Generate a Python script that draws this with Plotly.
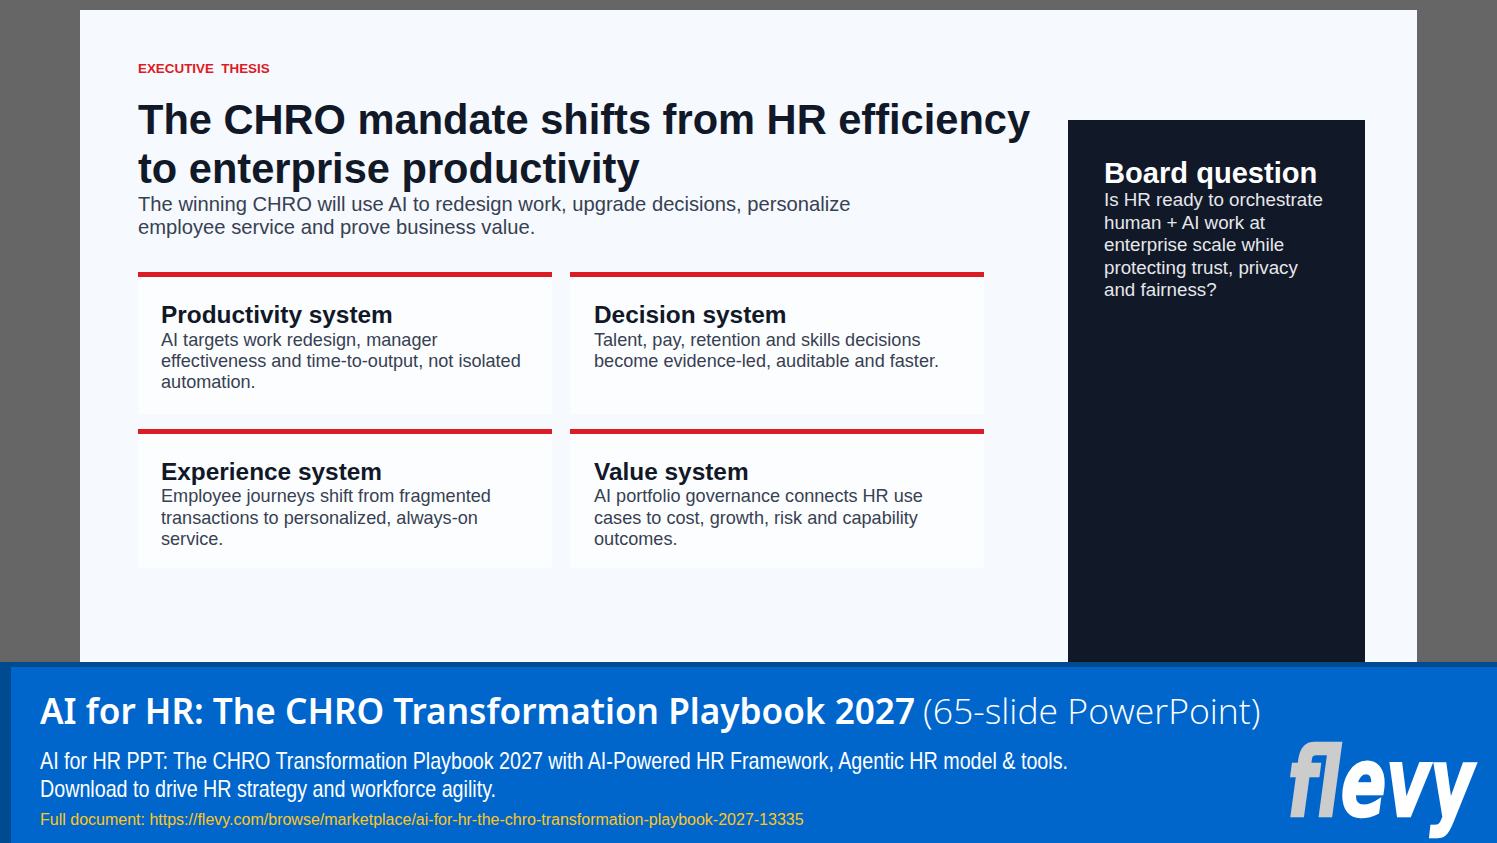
import json
import plotly.graph_objects as go

ARIAL = "Liberation Sans"
NOTO = "Noto Sans"
INK = "#111827"
BODY = "#374151"
WHITE = "#ffffff"

eyebrow = "EXECUTIVE  THESIS"
title_lines = ["The CHRO mandate shifts from HR efficiency", "to enterprise productivity"]
lede_lines = ["The winning CHRO will use AI to redesign work, upgrade decisions, personalize",
              "employee service and prove business value."]
card_heads = ["Productivity system", "Decision system", "Experience system", "Value system"]
card_bodies = [
    ["AI targets work redesign, manager", "effectiveness and time-to-output, not isolated", "automation."],
    ["Talent, pay, retention and skills decisions", "become evidence-led, auditable and faster."],
    ["Employee journeys shift from fragmented", "transactions to personalized, always-on", "service."],
    ["AI portfolio governance connects HR use", "cases to cost, growth, risk and capability", "outcomes."],
]
panel_head = "Board question"
panel_lines = ["Is HR ready to orchestrate", "human + AI work at", "enterprise scale while",
               "protecting trust, privacy", "and fairness?"]
banner_title = "AI for HR: The CHRO Transformation Playbook 2027"
banner_suffix = "(65-slide PowerPoint)"
banner_lines = ["AI for HR PPT: The CHRO Transformation Playbook 2027 with AI-Powered HR Framework, Agentic HR model & tools.",
                "Download to drive HR strategy and workforce agility."]
banner_link = "Full document: https://flevy.com/browse/marketplace/ai-for-hr-the-chro-transformation-playbook-2027-13335"
logo = "<span style='color:#cccccc'>f</span>levy"

# rendered widths of lines whose original face is condensed
fitted = {banner_lines[0]: 1028, banner_lines[1]: 456, logo: 186}

shapes = []
def rect(x0, y0, x1, y1, color):
    shapes.append(dict(type="rect", x0=x0, y0=y0, x1=x1, y1=y1, fillcolor=color,
                       line=dict(width=0), layer="below"))
anns = []
def text(x, y, s, size, color, family=ARIAL, weight=400):
    anns.append(dict(x=x - 2, y=y, text=s, showarrow=False, xanchor="left", yanchor="middle",
                     align="left", font=dict(family=family, size=size, color=color, weight=weight)))

rect(0, 0, 1497, 843, "#666666")
rect(80, 10, 1417, 662, "#f6f9fe")
rect(1068, 120, 1365, 662, INK)

card_x = [138, 570, 138, 570]
card_y = [272, 272, 429, 429]
card_b = [414, 414, 568, 568]
text_x = [161, 594, 161, 594]
for i in range(4):
    rect(card_x[i], card_y[i], card_x[i] + 414, card_b[i], "#fcfdff")
    rect(card_x[i], card_y[i], card_x[i] + 414, card_y[i] + 5, "#dc1c24")

rect(0, 662, 1497, 843, "#004a8f")
rect(11, 667, 1497, 843, "#0066cc")

text(138, 68.5, eyebrow, 13.4, "#dc1c24", weight=700)
for y, s in zip([119, 168.5], title_lines):
    text(138, y, s, 41.6, INK, weight=700)
for y, s in zip([203.5, 226.5], lede_lines):
    text(138, y, s, 20.2, BODY)

head_y = [314, 314, 471, 471]
body_y = [[339.5, 360.5, 381.5], [339.5, 360.5], [495.5, 517.5, 538.5], [495.5, 517.5, 538.5]]
for i in range(4):
    text(text_x[i], head_y[i], card_heads[i], 24.4, INK, weight=700)
    for y, s in zip(body_y[i], card_bodies[i]):
        text(text_x[i], y, s, 18.1, BODY)

text(1104, 173, panel_head, 29.1, WHITE, weight=700)
for y, s in zip([199.5, 222.5, 244.5, 267.5, 289.5], panel_lines):
    text(1104, y, s, 18.75, "#e5e7eb")

text(40, 710, banner_title, 35.15, WHITE, NOTO, weight=600)
text(923, 710, banner_suffix, 35.6, WHITE, "Open Sans", weight=300)
for y, s in zip([760, 788], banner_lines):
    text(40, y, s, 24, WHITE, ARIAL)
text(40, 819, banner_link, 16, "#ffc61a", ARIAL)

anns.append(dict(x=1479, y=783, text=logo, showarrow=False, xanchor="right", yanchor="middle",
                 align="right", font=dict(family="DejaVu Sans", size=96, color=WHITE,
                                          weight=700, style="italic")))

fig = go.Figure()
fig.update_layout(
    width=1497, height=843, autosize=False, margin=dict(l=0, r=0, t=0, b=0),
    paper_bgcolor="#666666", plot_bgcolor="#666666", showlegend=False,
    xaxis=dict(range=[0, 1497], visible=False, fixedrange=True),
    yaxis=dict(range=[843, 0], visible=False, fixedrange=True),
    shapes=shapes, annotations=anns,
)
post = ("document.body.style.margin='0';document.documentElement.style.overflow='hidden';"
        "var W=" + json.dumps(fitted) + ";var L=" + json.dumps(logo) + ";"
        "document.querySelectorAll('.annotation-text').forEach(function(t){"
        "var u=t.getAttribute('data-unformatted');var w=W[u];"
        "if(w){t.setAttribute('textLength',w);t.setAttribute('lengthAdjust','spacingAndGlyphs');}"
        "if(u===L){t.style.stroke='#ffffff';t.style.strokeWidth='2.5px';"
        "t.querySelectorAll('tspan').forEach(function(s){if((s.getAttribute('style')||'').indexOf('fill')>=0){"
        "s.style.stroke=s.style.fill;}});}});")
fig.write_html("out.html", config={"displayModeBar": False}, post_script=post)
